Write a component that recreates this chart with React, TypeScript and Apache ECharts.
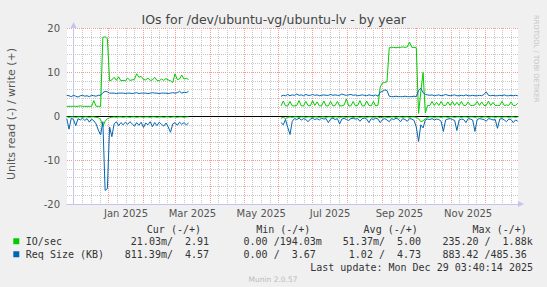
import React, { useEffect, useRef } from "react";
import * as echarts from "echarts";

const TITLE = "IOs for /dev/ubuntu-vg/ubuntu-lv - by year";
const Y_TITLE = "Units read (-) / write (+)";
const WATERMARK = "RRDTOOL / TOBI OETIKER";
const LAST_UPDATE = "Last update: Mon Dec 29 03:40:14 2025";
const VERSION = "Munin 2.0.57";

const SERIES_NAMES = ["IO/sec", "Req Size (KB)"];
const SERIES_COLORS = ["#00cc00", "#0066b3"];
const STAT_HEADERS = ["Cur (-/+)", "Min (-/+)", "Avg (-/+)", "Max (-/+)"];
// [read, write] per statistic
const IO_STATS = [["21.03m", "2.91"], ["0.00", "194.03m"], ["51.37m", "5.00"], ["235.20", "1.88k"]];
const REQ_STATS = [["811.39m", "4.57"], ["0.00", "3.67"], ["1.02", "4.73"], ["883.42", "485.36"]];

const Y_MIN = -20;
const Y_MAX = 20;
const Y_STEP = 10;

// x axis in days since 2024-12-01
const X_MIN = -5.8;
const X_MAX = 394.2;
const GRID_MONTHS: [number, number][] = [
  [2024, 10], [2024, 11], [2025, 0], [2025, 1], [2025, 2], [2025, 3], [2025, 4],
  [2025, 5], [2025, 6], [2025, 7], [2025, 8], [2025, 9], [2025, 10], [2025, 11],
];
const LABEL_MONTHS: [number, number][] = [[2025, 0], [2025, 2], [2025, 4], [2025, 6], [2025, 8], [2025, 10]];
const LABEL_TEXT = ["Jan 2025", "Mar 2025", "May 2025", "Jul 2025", "Sep 2025", "Nov 2025"];

// sampled every STEP days, two segments with a gap between
const STEP = 2;
const SEG1_START = -6;
const SEG2_START = 184;

const ioWrite1 = [2.2,2.2,2.2,2.2,2.2,2.2,2.3,2.2,2.2,2.2,2.2,2.2,3.5,2.2,2.2,2.2,17.9,18.0,17.6,
  8.0,8.2,8.8,8.1,8.9,8.0,8.1,8.0,8.6,8.1,8.2,8.3,9.6,8.8,9.0,8.3,8.2,8.6,8.1,8.2,
  8.8,8.1,8.0,8.4,8.1,8.5,8.2,8.0,7.6,9.6,8.3,8.4,9.3,8.4,8.6,8.3];
const ioRead1 = [0.2,0.3,0.2,0.2,0.3,0.2,0.2,0.3,0.2,0.2,0.3,0.2,0.2,0.3,0.4,0.8,2.4,1.2,0.6,0.4,
  0.3,0.2,0.3,0.2,0.2,0.3,0.2,0.2,0.3,0.2,0.2,0.3,0.2,0.2,0.3,0.2,0.2,0.3,0.2,0.2,
  0.3,0.2,0.2,0.3,0.2,0.2,0.3,0.2,0.2,0.3,0.2,0.2,0.3,0.2,0.2];
const reqWrite1 = [4.7,4.6,4.4,4.7,4.5,4.3,4.6,4.7,4.5,4.6,4.4,4.7,4.6,4.5,4.7,4.7,5.3,5.6,5.5,
  5.2,5.2,5.2,5.1,5.2,5.2,5.2,5.1,5.2,5.2,5.1,5.2,5.3,5.1,5.2,5.2,5.2,5.1,5.2,5.3,
  5.2,5.2,5.1,5.2,5.2,5.2,5.1,5.2,5.3,5.2,5.3,5.6,5.2,5.4,5.3,5.6];
const reqRead1 = [0.6,3.0,0.5,0.8,2.2,0.6,0.9,0.5,1.0,0.6,1.4,0.7,1.1,1.8,3.2,4.3,1.3,16.9,16.5,2.5,
  4.7,1.8,1.3,2.2,1.5,2.0,1.4,1.9,1.3,1.8,2.3,1.5,2.1,1.4,2.6,1.6,2.0,1.3,2.4,1.5,
  2.2,1.4,1.9,2.3,1.6,2.5,3.7,1.8,1.5,2.1,1.4,1.9,1.5,2.0,1.6];

const ioWrite2 = [2.3,3.4,2.3,2.3,3.3,2.3,2.3,2.4,3.5,2.3,2.3,3.3,2.4,2.3,3.5,2.4,3.2,2.3,2.3,3.4,
  2.3,2.3,3.3,2.3,2.4,3.3,2.3,2.3,2.5,3.9,2.3,2.3,3.3,2.3,2.4,3.5,2.3,2.3,3.4,2.4,
  2.3,3.3,2.3,2.4,6.6,7.5,7.6,7.8,15.5,15.6,15.6,15.5,15.6,15.6,15.7,15.6,15.7,16.8,15.6,15.6,
  15.5,0.6,5.5,9.9,0.7,2.4,2.4,3.3,2.4,3.1,2.4,3.3,2.4,2.4,3.2,2.4,3.3,2.4,3.1,2.4,
  3.3,2.4,2.4,3.2,2.4,2.4,2.5,3.3,2.4,3.2,2.4,2.4,3.4,2.4,3.1,2.4,2.4,2.4,3.3,2.4,
  2.5,2.4,3.2,2.4,2.4,2.9];
const ioRead2 = [0.5,0.3,0.6,0.3,0.2,0.3,0.2,0.2,0.3,0.2,0.2,0.3,0.2,0.2,0.3,0.2,0.2,0.3,0.2,0.2,
  0.3,0.2,0.2,0.3,0.2,0.2,0.3,0.2,0.2,0.3,0.2,0.2,0.3,0.2,0.2,0.3,0.2,0.2,0.3,0.2,
  0.2,0.3,0.2,0.2,0.4,0.3,0.2,0.3,0.3,0.2,0.2,0.3,0.2,0.2,0.3,0.2,0.2,0.3,0.2,0.2,
  0.3,0.6,1.3,1.1,0.6,0.3,0.2,0.2,0.3,0.2,0.2,0.3,0.2,0.2,0.3,0.2,0.2,0.3,0.2,0.2,
  0.3,0.2,0.2,0.3,0.2,0.2,0.3,0.2,0.2,0.3,0.2,0.2,0.3,0.2,0.2,0.3,0.2,0.2,0.3,0.2,
  0.2,0.3,0.2,0.2,0.3,0.2];
const reqWrite2 = [4.5,4.7,4.6,4.9,4.6,4.8,4.7,5.0,4.7,4.8,4.6,4.9,4.7,4.7,4.9,4.7,4.8,4.6,4.7,4.8,
  4.7,4.7,4.9,4.7,4.8,4.7,4.7,5.0,4.8,4.7,4.8,4.9,4.7,4.8,4.6,4.7,4.8,4.7,4.6,4.8,
  4.7,4.6,4.8,4.5,5.4,5.6,5.9,5.8,4.5,4.4,4.4,4.5,4.4,4.4,4.4,4.5,4.4,4.4,4.4,4.5,
  4.4,5.8,6.3,5.3,4.9,4.8,4.7,4.8,4.6,4.7,4.8,4.6,4.7,4.9,4.7,4.6,4.7,4.8,4.6,4.6,
  4.7,4.6,4.8,4.6,4.6,4.7,4.6,4.6,4.7,4.6,4.9,5.5,4.7,4.6,4.7,4.6,4.6,4.7,4.6,4.8,
  4.6,4.6,4.7,4.6,4.7,4.6];
const reqRead2 = [1.5,2.0,0.8,2.6,4.2,1.2,0.6,0.8,0.5,0.9,0.6,0.8,1.3,0.7,0.5,0.8,0.6,0.9,0.5,0.7,
  0.6,1.5,0.7,0.5,0.8,0.6,1.8,0.7,0.5,0.8,1.0,0.6,0.5,0.7,0.6,1.2,0.6,0.5,0.7,1.5,
  0.6,0.8,0.5,0.7,1.5,0.8,0.6,0.9,1.3,0.6,0.8,0.5,0.7,1.3,0.6,0.8,1.2,0.6,0.7,1.0,
  2.5,5.8,2.0,2.7,0.9,0.7,0.8,0.6,0.9,0.7,0.8,1.2,3.5,0.9,0.7,0.6,0.8,1.0,3.3,0.9,
  0.7,0.8,1.5,0.6,0.7,0.9,3.5,0.8,0.6,0.7,0.8,1.2,0.6,0.7,0.9,0.8,2.8,0.7,0.6,0.9,
  1.3,0.7,0.8,1.5,0.9,1.2];

const dayOf = (y: number, m: number, d = 1) => (Date.UTC(y, m, d) - Date.UTC(2024, 11, 1)) / 86400000;
const inRange = (v: number) => v >= X_MIN && v <= X_MAX;
const MAJOR = GRID_MONTHS.map(([y, m]) => dayOf(y, m)).filter(inRange);
const MINOR = GRID_MONTHS.flatMap(([y, m]) => {
  const s = dayOf(y, m);
  const e = dayOf(y, m + 1);
  return [1, 2, 3].map((k) => s + ((e - s) * k) / 4);
}).filter(inRange);
const LABEL_POS = LABEL_MONTHS.map(([y, m]) => (dayOf(y, m) + dayOf(y, m + 1)) / 2);

function buildData(seg1: number[], seg2: number[], sign: number) {
  const out: any[] = [];
  seg1.forEach((v, i) => out.push([SEG1_START + i * STEP, sign * v]));
  out.push([(SEG1_START + seg1.length * STEP + SEG2_START) / 2, "-"]);
  seg2.forEach((v, i) => out.push([SEG2_START + i * STEP, sign * v]));
  return out;
}

const MONO = "DejaVu Sans Mono";
const SANS = "DejaVu Sans";
const CW = 6.02;
const FIELD_X = [124.8, 231.5, 336.8, 442.4];
const HEADER_X = [146.8, 256.2, 363.6, 472.6];
const HEADER_Y = 229;
const ROW_Y = [241.2, 254.2];

function legendGraphics() {
  const els: any[] = [];
  const txt = (x: number, y: number, text: string, align: string) => ({
    type: "text", x, y, silent: true,
    style: { text, fill: "#333", font: `10px "${MONO}"`, align, verticalAlign: "middle" },
  });
  STAT_HEADERS.forEach((h, k) => els.push(txt(HEADER_X[k], HEADER_Y, h, "left")));
  [IO_STATS, REQ_STATS].forEach((stats, r) => {
    const y = ROW_Y[r];
    els.push({ type: "rect", silent: true, shape: { x: 13.3, y: y - 3, width: 6, height: 6 }, style: { fill: SERIES_COLORS[r] } });
    els.push(txt(25.8, y, SERIES_NAMES[r], "left"));
    stats.forEach(([rd, wr], k) => {
      const x0 = FIELD_X[k];
      const hasU = (s: string) => /[a-zA-Z]$/.test(s);
      els.push(txt(x0 + (hasU(rd) ? 7 : 6) * CW, y, rd, "right"));
      els.push(txt(x0 + 7 * CW, y, "/", "left"));
      els.push(txt(x0 + (hasU(wr) ? 15 : 14) * CW, y, wr, "right"));
    });
  });
  els.push(txt(533, 267, LAST_UPDATE, "right"));
  return els;
}

export default function App() {
  const ref = useRef<HTMLDivElement>(null);
  useEffect(() => {
    if (!ref.current) return;
    const chart = echarts.init(ref.current, undefined, { renderer: "svg" });
    const red = "#f09a9a";
    const gray = "#c8c8c8";
    const axisCol = "#c4c4ee";
    const series: any[] = [
      { data: buildData(ioRead1, ioRead2, -1), color: SERIES_COLORS[0] },
      { data: buildData(reqRead1, reqRead2, -1), color: SERIES_COLORS[1] },
      { data: buildData(ioWrite1, ioWrite2, 1), color: SERIES_COLORS[0] },
      { data: buildData(reqWrite1, reqWrite2, 1), color: SERIES_COLORS[1] },
    ].map((s, i) => ({
      type: "line",
      name: SERIES_NAMES[i % 2],
      xAxisIndex: 1,
      yAxisIndex: 0,
      data: s.data,
      showSymbol: false,
      symbol: "none",
      silent: true,
      connectNulls: false,
      lineStyle: { color: s.color, width: 1 },
      itemStyle: { color: s.color },
      z: 3 + i,
    }));
    chart.setOption({
      animation: false,
      backgroundColor: "#f0f0f0",
      textStyle: { fontFamily: SANS },
      grid: { left: 67, top: 28, width: 451, height: 176, show: true, backgroundColor: "#ffffff", borderWidth: 0 },
      xAxis: [
        {
          type: "value", min: X_MIN, max: X_MAX, position: "bottom",
          axisLine: { show: true, onZero: true, lineStyle: { color: "#000000", width: 1 } },
          axisTick: { show: false, customValues: MINOR },
          axisLabel: { show: false },
          splitLine: { show: true, lineStyle: { color: gray, width: 1, type: [1, 1] } },
        },
        {
          type: "value", min: X_MIN, max: X_MAX, position: "bottom",
          axisLine: {
            show: true, onZero: false, lineStyle: { color: axisCol, width: 1 },
            symbol: ["none", "triangle"], symbolSize: [6, 6], symbolOffset: [0, 3],
          },
          axisTick: { show: false, customValues: MAJOR },
          axisLabel: {
            show: true, customValues: LABEL_POS, margin: 4, fontSize: 10, color: "#555", fontFamily: SANS,
            formatter: (v: number) => {
              const i = LABEL_POS.findIndex((p) => Math.abs(p - v) < 0.01);
              return i >= 0 ? LABEL_TEXT[i] : "";
            },
          },
          splitLine: { show: true, lineStyle: { color: red, width: 1, type: [1, 1] } },
        },
      ],
      yAxis: {
        type: "value", min: Y_MIN, max: Y_MAX, interval: Y_STEP,
        axisLine: {
          show: true, lineStyle: { color: axisCol, width: 1 },
          symbol: ["none", "triangle"], symbolSize: [6, 6], symbolOffset: [0, 3],
        },
        axisTick: { show: false },
        axisLabel: { margin: 7, fontSize: 10, color: "#555", fontFamily: SANS },
        splitLine: { show: true, lineStyle: { color: red, width: 1, type: [1, 1] } },
        minorTick: { show: false, splitNumber: 5 },
        minorSplitLine: { show: true, lineStyle: { color: gray, width: 1, type: [1, 1] } },
      },
      series,
      graphic: [
        {
          type: "text", x: 273.8, y: 19.2, silent: true,
          style: { text: TITLE, fill: "#444", font: `12.5px "${SANS}"`, align: "center", verticalAlign: "middle" },
        },
        {
          type: "text", x: 11, y: 114, rotation: Math.PI / 2, silent: true,
          style: { text: Y_TITLE, fill: "#555", font: `11px "${SANS}"`, align: "center", verticalAlign: "middle" },
        },
        {
          type: "text", x: 536, y: 15, rotation: -Math.PI / 2, silent: true,
          style: { text: WATERMARK, fill: "#c4c4c4", font: `6.8px "${SANS}"`, align: "left", verticalAlign: "middle" },
        },
        ...legendGraphics(),
        {
          type: "text", x: 273, y: 279.6, silent: true,
          style: { text: VERSION, fill: "#bbbbbb", font: `7.5px "${SANS}"`, align: "center", verticalAlign: "middle" },
        },
      ],
    });
    return () => chart.dispose();
  }, []);
  return <div ref={ref} style={{ position: "fixed", left: 0, top: 0, width: 547, height: 287 }} />;
}
